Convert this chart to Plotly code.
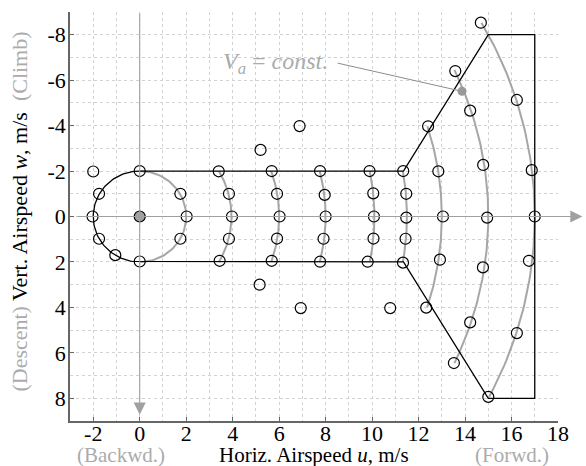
import numpy as np
import plotly.graph_objects as go

# ---------------- data ----------------
# measurement points (u = horizontal airspeed, w = vertical airspeed; w<0 = climb)
PTS_U = [-2.0, -1.75, -2.03, -1.75, -1.05, 0.0, 0.0, 1.75, 2.02, 1.75,
         3.40, 3.84, 3.97, 3.84, 3.44,
         5.68, 5.91, 6.02, 5.91, 5.68,
         7.76, 7.96, 8.00, 7.91, 7.76,
         9.89, 10.05, 10.08, 10.06, 9.81,
         11.34, 11.47, 11.47, 11.44, 11.33,
         5.20, 6.88, 5.16, 6.93, 10.78,
         12.41, 12.85, 13.05, 12.92, 12.33,
         13.58, 14.22, 14.78, 14.95, 14.77, 14.22, 13.52,
         14.68, 16.23, 16.87, 17.00, 16.75, 16.23, 15.00]
PTS_W = [-1.98, -1.0, 0.0, 0.98, 1.70, -2.0, 1.98, -1.0, 0.0, 0.98,
         -1.99, -1.0, 0.0, 0.98, 1.95,
         -2.0, -1.0, 0.0, 0.97, 1.95,
         -2.0, -0.95, 0.0, 0.98, 1.99,
         -2.0, -1.02, 0.0, 0.97, 1.99,
         -2.0, -1.0, 0.05, 0.98, 2.03,
         -2.93, -3.98, 3.0, 4.03, 4.03,
         -3.97, -1.99, 0.0, 1.90, 4.01,
         -6.40, -4.66, -2.27, 0.05, 2.24, 4.66, 6.45,
         -8.53, -5.13, -2.04, 0.0, 1.95, 5.13, 7.94]
HOVER_U = [0.0]
HOVER_W = [0.0]

# constant-airspeed arcs: radius Va and vertical extent
ARC_VA = [2.0, 3.95, 6.0, 8.0, 10.1, 11.5, 13.0, 15.0, 17.0]
ARC_W_TOP = [-2.0, -2.0, -2.0, -2.0, -2.0, -2.0, -3.97, -6.45, -8.53]
ARC_W_BOT = [2.0, 2.0, 2.0, 2.0, 2.0, 2.0, 4.0, 6.45, 7.94]

# flight envelope (black)
ENV_U = [0.0, 11.35, 15.0, 17.0, 17.0, 15.0, 11.35, 0.0]
ENV_W = [-2.0, -2.0, -8.0, -8.0, 8.0, 8.0, 2.0, 2.0]
ENV_HOVER_R = 2.0

# callout "Va = const."
CALLOUT_POINT = (13.87, -5.51)
CALLOUT_TAIL = (8.52, -6.75)
CALLOUT_TEXT_POS = (5.85, -6.77)

X_TICKS = [-2, 0, 2, 4, 6, 8, 10, 12, 14, 16, 18]
Y_TICKS = [-8, -6, -4, -2, 0, 2, 4, 6, 8]

# ---------------- styles ----------------
FONT = "Liberation Serif"
GRAY = "#a6a6a6"
TXT_GRAY = "#ababab"
AXC = "#666666"
FS = 22
TFS = 21

fig = go.Figure()

# arcs
for va, wt, wb in zip(ARC_VA, ARC_W_TOP, ARC_W_BOT):
    a0 = np.arcsin(max(-1, min(1, wt / va)))
    a1 = np.arcsin(max(-1, min(1, wb / va)))
    th = np.linspace(a0, a1, 80)
    fig.add_trace(go.Scatter(x=va * np.cos(th), y=va * np.sin(th), mode="lines",
                             line=dict(color=GRAY, width=2), hoverinfo="skip",
                             showlegend=False))

# envelope: left half circle + polygon
th = np.linspace(np.pi / 2, 3 * np.pi / 2, 80)
cu = list(ENV_HOVER_R * np.cos(th))
cw = list(ENV_HOVER_R * np.sin(th))
fig.add_trace(go.Scatter(x=ENV_U + cu, y=ENV_W + cw, mode="lines",
                         line=dict(color="black", width=1.3), hoverinfo="skip",
                         showlegend=False))

# callout line + dot
fig.add_trace(go.Scatter(x=[CALLOUT_TAIL[0], CALLOUT_POINT[0]],
                         y=[CALLOUT_TAIL[1], CALLOUT_POINT[1]], mode="lines",
                         line=dict(color="#8c8c8c", width=1), showlegend=False))
fig.add_trace(go.Scatter(x=[CALLOUT_POINT[0]], y=[CALLOUT_POINT[1]], mode="markers",
                         marker=dict(color="#999999", size=9), showlegend=False))

# open circles
fig.add_trace(go.Scatter(x=PTS_U, y=PTS_W, mode="markers",
                         marker=dict(symbol="circle-open", size=11, color="black",
                                     line=dict(width=1.2)),
                         showlegend=False))
fig.add_trace(go.Scatter(x=HOVER_U, y=HOVER_W, mode="markers",
                         marker=dict(symbol="circle", size=11, color="#a0a0a0",
                                     line=dict(width=1.2, color="black")),
                         showlegend=False))

# gray coordinate arrows
arrow = dict(showarrow=True, arrowhead=2, arrowsize=2.2, arrowwidth=1.1,
             arrowcolor="#a0a0a0", text="", xref="x", yref="y",
             axref="x", ayref="y")
fig.add_annotation(x=19.05, y=0, ax=-2.75, ay=0, **arrow)
fig.add_annotation(x=0, y=8.72, ax=0, ay=-9.0, **arrow)

# callout text
fig.add_annotation(x=CALLOUT_TEXT_POS[0], y=CALLOUT_TEXT_POS[1], xref="x", yref="y",
                   xanchor="center", yanchor="middle",
                   text="<i>V</i><sub><i>a</i></sub> = <i>const.</i>",
                   showarrow=False, font=dict(family=FONT, size=24, color=TXT_GRAY))

# axis titles
tcommon = dict(xanchor="center", yanchor="middle", showarrow=False)
TY = -0.082
fig.add_annotation(x=-0.82, y=TY, xref="x", yref="paper", text="(Backwd.)",
                   font=dict(family=FONT, size=TFS, color=TXT_GRAY), **tcommon)
fig.add_annotation(x=7.48, y=TY, xref="x", yref="paper",
                   text="Horiz. Airspeed <i>u</i>, m/s",
                   font=dict(family=FONT, size=TFS, color="black"), **tcommon)
fig.add_annotation(x=16.0, y=TY, xref="x", yref="paper", text="(Forwd.)",
                   font=dict(family=FONT, size=TFS, color=TXT_GRAY), **tcommon)
fig.add_annotation(x=-0.1025, y=0.512, xref="paper", yref="paper", textangle=-90,
                   text=("<span style='color:%s'>(Descent)</span> Vert. Airspeed "
                         "<i>w</i>, m/s  <span style='color:%s'>(Climb)</span>")
                   % (TXT_GRAY, TXT_GRAY),
                   font=dict(family=FONT, size=FS, color="black"), **tcommon)

axis_common = dict(showgrid=True, gridcolor="#d2d2d2", griddash="dot", gridwidth=1,
                   zeroline=False, showline=True, linecolor=AXC, linewidth=1.5,
                   ticks="inside", ticklen=4, tickcolor=AXC, tickwidth=1,
                   tickfont=dict(family=FONT, size=FS, color="black"),
                   minor=dict(dtick=1, showgrid=True, gridcolor="#d2d2d2",
                              griddash="dot", gridwidth=1, ticks=""))

fig.update_xaxes(range=[-3, 18], tickvals=X_TICKS, ticklabelstandoff=-8,
                 ticktext=[str(v) for v in X_TICKS], **axis_common)
fig.update_yaxes(range=[9, -9], tickvals=Y_TICKS, ticklabelstandoff=-2,
                 ticktext=[str(v) for v in Y_TICKS], **axis_common)

fig.update_layout(width=586, height=466, autosize=False,
                  margin=dict(l=70, r=28, t=12, b=45),
                  plot_bgcolor="white", paper_bgcolor="white",
                  font=dict(family=FONT, size=FS))

fig.write_html("out.html")
